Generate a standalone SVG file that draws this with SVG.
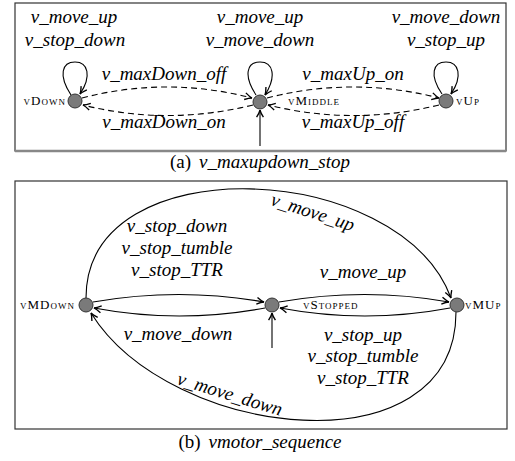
<svg xmlns="http://www.w3.org/2000/svg" width="515" height="461" viewBox="0 0 515 461">
<defs>
<marker id="arr" viewBox="0 0 10 10" refX="9.5" refY="5" markerWidth="9" markerHeight="9" markerUnits="userSpaceOnUse" orient="auto">
<path d="M1.5,1.2 Q6.5,4.3 9.5,5 Q6.5,5.7 1.5,8.8" fill="none" stroke="#000" stroke-width="1.5"/>
</marker>
<style>
.lbl{font-family:"Liberation Serif",serif;font-style:italic;font-size:19px;fill:#000;text-anchor:middle}
.cap{font-family:"Liberation Serif",serif;font-size:19px;fill:#000;text-anchor:middle}
.nl{font-family:"Liberation Serif",serif;font-size:13px;letter-spacing:1px;font-variant:small-caps;fill:#000}
.st{fill:#7a7a7a;stroke:#333;stroke-width:1}
.e{fill:none;stroke:#000;stroke-width:1.1;marker-end:url(#arr)}
.d{stroke-dasharray:6 4}
.box{fill:#fff;stroke:#333;stroke-width:1.2}
</style>
</defs>
<rect width="515" height="461" fill="#fff"/>
<rect class="box" x="15" y="3" width="491" height="148"/>
<line x1="15" y1="151" x2="506" y2="151" stroke="#888" stroke-width="2.5"/>
<rect class="box" x="15" y="181" width="492" height="248"/>
<g id="connectors">
<path class="e" d="M71 95 C58 75 62 62 75 62 C88 62 92 76 80 94"/>
<path class="e" d="M256 95 C243 75 247 62 260 62 C273 62 277 76 265 95"/>
<path class="e" d="M442 94 C429 75 433 62 446 62 C459 62 463 76 451 94"/>
<path class="e d" d="M82 98 Q167 76 252 98"/>
<path class="e d" d="M253 105 Q167 126 83 105"/>
<path class="e d" d="M267 98 Q353 76 439 98"/>
<path class="e d" d="M439 105 Q353 126 268 105"/>
<path class="e" d="M260 146 L260 110"/>
<path class="e" d="M93 302 Q179 287 264 302"/>
<path class="e" d="M265 308 Q179 324 94 308"/>
<path class="e" d="M279 302 Q365 287 449 302"/>
<path class="e" d="M450 308 Q365 324 280 308"/>
<path class="e" d="M272 348 L272 313"/>
<path class="e" d="M86 298 C86 145 400 160 451 298"/>
<path class="e" d="M456 312 C456 472 170 440 91 313"/>
</g>
<g id="vDown"><circle class="st" cx="75" cy="101" r="7"/><text class="nl" x="66" y="105" text-anchor="end">vDown</text></g>
<g id="vMiddle"><circle class="st" cx="260" cy="102" r="7"/><text class="nl" x="288" y="105">vMiddle</text></g>
<g id="vUp"><circle class="st" cx="446" cy="101" r="7"/><text class="nl" x="456" y="105">vUp</text></g>
<g id="vMDown"><circle class="st" cx="86" cy="305" r="7"/><text class="nl" x="75" y="309" text-anchor="end">vMDown</text></g>
<g id="vStopped"><circle class="st" cx="272" cy="305" r="7"/><text class="nl" x="303" y="309">vStopped</text></g>
<g id="vMUp"><circle class="st" cx="457" cy="305" r="7"/><text class="nl" x="465" y="309">vMUp</text></g>
<g id="labels">
<text class="lbl" x="74" y="23">v_move_up</text>
<text class="lbl" x="75" y="46">v_stop_down</text>
<text class="lbl" x="260" y="23">v_move_up</text>
<text class="lbl" x="260" y="46">v_move_down</text>
<text class="lbl" x="446" y="23">v_move_down</text>
<text class="lbl" x="446" y="46">v_stop_up</text>
<text class="lbl" x="164" y="80">v_maxDown_off</text>
<text class="lbl" x="164" y="128">v_maxDown_on</text>
<text class="lbl" x="353" y="80">v_maxUp_on</text>
<text class="lbl" x="353" y="128">v_maxUp_off</text>
<text class="cap" x="260" y="168">(a)<tspan dx="8" font-style="italic">v_maxupdown_stop</tspan></text>
<text class="lbl" x="177" y="232">v_stop_down</text>
<text class="lbl" x="177" y="254">v_stop_tumble</text>
<text class="lbl" x="177" y="276">v_stop_TTR</text>
<text class="lbl" x="363" y="278">v_move_up</text>
<text class="lbl" transform="translate(311 218) rotate(18)">v_move_up</text>
<text class="lbl" x="178" y="340">v_move_down</text>
<text class="lbl" x="363" y="341">v_stop_up</text>
<text class="lbl" x="363" y="362">v_stop_tumble</text>
<text class="lbl" x="363" y="384">v_stop_TTR</text>
<text class="lbl" transform="translate(228 400) rotate(17)">v_move_down</text>
<text class="cap" x="260" y="448">(b)<tspan dx="8" font-style="italic">vmotor_sequence</tspan></text>
</g>
</svg>
